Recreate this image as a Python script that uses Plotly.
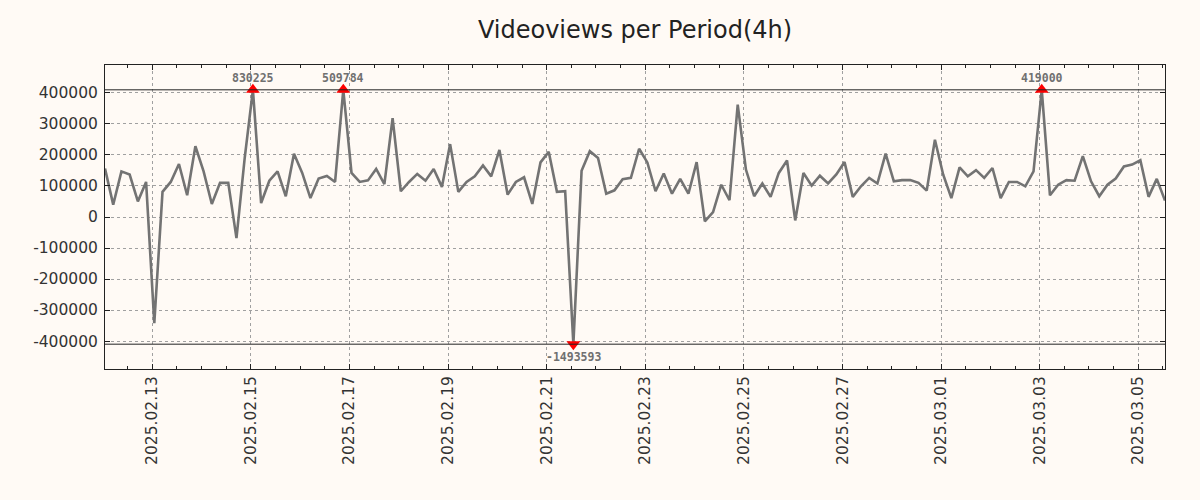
import numpy as np
import pandas as pd
import plotly.graph_objects as go

# ---- data ----
start_time = "2025-02-12 01:00"
period = "4h"
views = [
    156000, 40000, 147000, 137000, 50000, 113000, -342000, 81000, 113000, 171000,
    70000, 228000, 147000, 42000, 110000, 110000, -68000, 190000, 830225, 45000,
    117000, 147000, 67000, 204000, 142000, 61000, 124000, 132000, 113000, 509784,
    142000, 113000, 118000, 155000, 106000, 319000, 83000, 113000, 139000, 117000,
    155000, 97000, 235000, 81000, 113000, 131000, 166000, 131000, 216000, 72000,
    113000, 128000, 42000, 176000, 210000, 81000, 83000, -1493593, 149000, 212000,
    190000, 75000, 86000, 122000, 126000, 220000, 176000, 83000, 140000, 75000,
    123000, 75000, 177000, -14000, 16000, 104000, 54000, 362000, 153000, 67000,
    108000, 65000, 142000, 182000, -11000, 142000, 101000, 133000, 108000, 137000,
    177000, 65000, 99000, 126000, 108000, 204000, 115000, 119000, 119000, 110000,
    85000, 249000, 137000, 61000, 160000, 131000, 151000, 126000, 158000, 61000,
    113000, 113000, 99000, 147000, 419000, 70000, 104000, 119000, 117000, 196000,
    115000, 67000, 104000, 124000, 163000, 169000, 183000, 65000, 123000, 53000,
]
y_ticks = [-400000, -300000, -200000, -100000, 0, 100000, 200000, 300000, 400000]
clip_limit = 410000
y_limit = 490000
title_text = "Videoviews per Period(4h)"

# ---- build ----
times = pd.date_range(start_time, periods=len(views), freq=period)
vals = np.array(views, dtype=float)
clipped = np.clip(vals, -clip_limit, clip_limit)
hi = vals > clip_limit
lo = vals < -clip_limit

bg = "#FFFAF5"
fig = go.Figure()
fig.add_trace(go.Scatter(x=times, y=clipped, mode="lines",
                         line=dict(color="#737373", width=2.6), showlegend=False))
fig.add_trace(go.Scatter(x=times[hi], y=clipped[hi], mode="markers",
                         marker=dict(symbol="triangle-up", color="red", size=12),
                         showlegend=False))
fig.add_trace(go.Scatter(x=times[lo], y=clipped[lo], mode="markers",
                         marker=dict(symbol="triangle-down", color="red", size=12),
                         showlegend=False))

ann_font = dict(family="DejaVu Sans Mono", size=11.5, color="#707070", weight="bold")
for t, v in zip(times[hi], vals[hi]):
    fig.add_annotation(x=t, y=clip_limit, text=str(int(v)), showarrow=False,
                       yshift=12, font=ann_font)
for t, v in zip(times[lo], vals[lo]):
    fig.add_annotation(x=t, y=-clip_limit, text=str(int(v)), showarrow=False,
                       yshift=-13, font=ann_font)

for yv in (clip_limit, -clip_limit):
    fig.add_shape(type="line", xref="paper", x0=0, x1=1, yref="y", y0=yv, y1=yv,
                  line=dict(color="#222222", width=1))

fig.update_layout(
    width=1200, height=500,
    paper_bgcolor=bg, plot_bgcolor=bg,
    margin=dict(l=105, r=35, t=65, b=131),
    title=dict(text=title_text, x=0.5, xref="paper", y=0.94, yref="container",
               xanchor="center", yanchor="middle",
               font=dict(family="DejaVu Sans", size=24, color="#222222")),
    font=dict(family="DejaVu Sans", size=15.5, color="#333333"),
)
fig.update_xaxes(
    range=[times[0], times[-1]], type="date",
    tickformat="%Y.%m.%d", dtick=2 * 86400000, tick0="2025-02-13",
    tickangle=-90, ticks="inside", ticklen=5, tickcolor="#222222",
    showline=True, linecolor="#222222", linewidth=1, mirror="allticks",
    showgrid=True, gridcolor="#a0a0a0", griddash="dot", gridwidth=1,
    minor=dict(ticks="inside", ticklen=3, dtick=12 * 3600000, tickcolor="#222222", showgrid=False),
    zeroline=False,
)
fig.update_yaxes(
    range=[-y_limit, y_limit], tickvals=y_ticks, ticktext=[str(v) for v in y_ticks],
    ticks="inside", ticklen=5, tickcolor="#222222", ticklabelstandoff=3,
    showline=True, linecolor="#222222", linewidth=1, mirror="allticks",
    showgrid=True, gridcolor="#a0a0a0", griddash="dot", gridwidth=1,
    zeroline=False,
)

fig.write_html(
    "out.html",
    config={"displayModeBar": False},
    post_script="document.body.style.margin='0';document.body.style.background='#FFFAF5';",
)
